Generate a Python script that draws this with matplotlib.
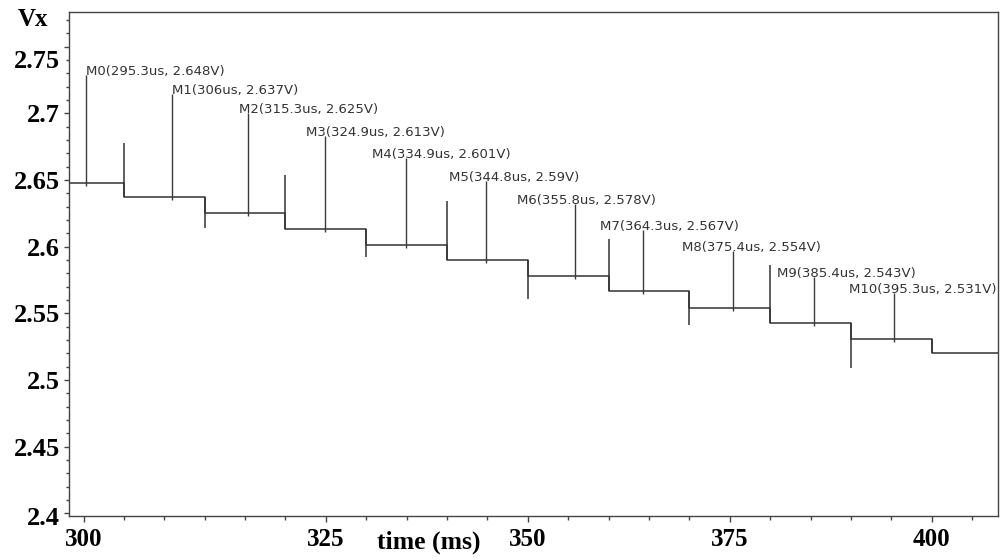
import numpy as np
import matplotlib.pyplot as plt
from matplotlib.ticker import MultipleLocator
from matplotlib.transforms import ScaledTranslation

# step waveform: transition times and the level held after each one
step_t = [300, 310, 320, 330, 340, 350, 360, 370, 380, 390, 400]
level = [2.648, 2.637, 2.625, 2.613, 2.601, 2.590, 2.578, 2.567, 2.554, 2.543, 2.531, 2.520]
# glitch peak at each transition
spike = [2.678, 2.614, 2.654, 2.592, 2.634, 2.561, 2.606, 2.541, 2.586, 2.509, 2.531]
t_window = [293.2, 408.2]

# markers
mk_t = [295.3, 306, 315.3, 324.9, 334.9, 344.8, 355.8, 364.3, 375.4, 385.4, 395.3]
mk_v = [2.648, 2.637, 2.625, 2.613, 2.601, 2.59, 2.578, 2.567, 2.554, 2.543, 2.531]

# marker label anchors (layout)
lab_x = [295.3, 305.9, 314.2, 322.6, 330.7, 340.2, 348.6, 358.9, 369.1, 380.8, 389.7]
lab_y = [2.7286, 2.7144, 2.7001, 2.6829, 2.6665, 2.6493, 2.6320, 2.6126, 2.5969, 2.5774, 2.5654]

x_tick_pos = [295, 325, 350, 375, 400]
x_tick_lab = ['300', '325', '350', '375', '400']
y_ticks = [2.4, 2.45, 2.5, 2.55, 2.6, 2.65, 2.7, 2.75]
y_tick_lab = ['2.4', '2.45', '2.5', '2.55', '2.6', '2.65', '2.7', '2.75']

serif = 'Liberation Serif'

fig = plt.figure(figsize=(10.01, 5.6), dpi=100)
ax = fig.add_axes([0.0689, 0.0786, 0.9281, 0.9000])

# waveform
xs = [t_window[0]] + step_t + [t_window[1]]
ax.step(xs, level + [level[-1]], where='post', color='#333333', lw=1.1)
for i, t in enumerate(step_t):
    vals = [level[i], level[i + 1], spike[i]]
    ax.vlines(t, min(vals), max(vals), color='#333333', lw=1.1)

# markers
ax.vlines(mk_t, np.array(mk_v) - 0.0022, lab_y, color='#3a3a3a', lw=1.0)
for i in range(len(mk_t)):
    txt = f"M{i}({mk_t[i]:g}us, {mk_v[i]:g}V)"
    ax.text(lab_x[i], lab_y[i], txt, fontsize=9.5, color='#333333',
            ha='left', va='baseline', family='DejaVu Sans')

ax.set_xlim(t_window)
ax.set_ylim(2.398, 2.776)

ax.set_xticks(x_tick_pos, x_tick_lab)
ax.xaxis.set_minor_locator(MultipleLocator(5))
ax.set_yticks(y_ticks, y_tick_lab)
ax.yaxis.set_minor_locator(MultipleLocator(0.01))

ax.tick_params(axis='x', which='major', length=4, width=1, pad=5, color='#444444')
ax.tick_params(axis='x', which='minor', length=3, width=1, color='#444444')
ax.tick_params(axis='y', which='major', length=3.5, width=1, pad=3, color='#444444')
ax.tick_params(axis='y', which='minor', length=2, width=1, color='#444444')

for lab in ax.get_xticklabels():
    lab.set_fontfamily(serif)
    lab.set_fontweight('bold')
    lab.set_fontsize(18)
ylabs = ax.get_yticklabels()
for lab in ylabs:
    lab.set_fontfamily(serif)
    lab.set_fontweight('bold')
    lab.set_fontsize(19)
# top and bottom labels sit a little lower in the original
ylabs[-1].set_transform(ylabs[-1].get_transform() + ScaledTranslation(0, -0.12, fig.dpi_scale_trans))
ylabs[0].set_transform(ylabs[0].get_transform() + ScaledTranslation(0, -0.03, fig.dpi_scale_trans))

for s in ax.spines.values():
    s.set_color('#444444')
    s.set_linewidth(1.0)

fig.text(33 / 1001, 1 - 20 / 560, 'Vx', fontsize=18, fontweight='bold',
         family=serif, ha='center', va='center')
fig.text(429 / 1001, 1 - 542 / 560, 'time (ms)', fontsize=18.5, fontweight='bold',
         family=serif, ha='center', va='center')

plt.savefig('out.png', dpi=100)
